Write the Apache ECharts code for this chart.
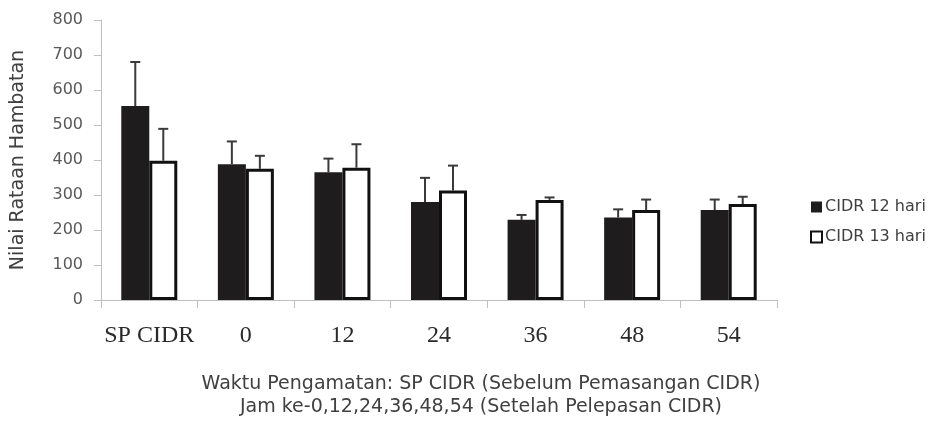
<!DOCTYPE html>
<html>
<head>
<meta charset="utf-8">
<script src="https://cdn.jsdelivr.net/npm/echarts@6/dist/echarts.min.js"></script>
<style>html,body{margin:0;padding:0;background:#fff}#c{width:930px;height:432px}</style>
</head>
<body>
<div id="c"></div>
<script>
var categories = ['SP CIDR', '0', '12', '24', '36', '48', '54'];
var seriesNames = ['CIDR 12 hari', 'CIDR 13 hari'];
var cidr12 = [554, 388, 365, 280, 229, 236, 257];
var cidr12Upper = [680, 453, 404, 349, 243, 259, 287];
var cidr13 = [398, 375, 378, 313, 286, 257, 274];
var cidr13Upper = [489, 412, 445, 384, 293, 287, 295];
var yTicks = [0, 100, 200, 300, 400, 500, 600, 700, 800];
var yAxisTitle = 'Nilai Rataan Hambatan';
var xAxisTitle = ['Waktu Pengamatan: SP CIDR (Sebelum Pemasangan CIDR)', 'Jam ke-0,12,24,36,48,54 (Setelah Pelepasan CIDR)'];

var BAR_W = 28;

function errData(vals, upper) {
  return vals.map(function (v, i) { return [i, v, upper[i]]; });
}
function errRender(offset) {
  return function (params, api) {
    var idx = api.value(0);
    var p0 = api.coord([idx, api.value(1)]);
    var p1 = api.coord([idx, api.value(2)]);
    var x = p0[0] + offset;
    var style = { stroke: '#3a3a3a', lineWidth: 2 };
    return {
      type: 'group',
      children: [
        { type: 'line', shape: { x1: x, y1: p0[1], x2: x, y2: p1[1] }, style: style },
        { type: 'line', shape: { x1: x - 5, y1: p1[1], x2: x + 5, y2: p1[1] }, style: style }
      ]
    };
  };
}

var chart = echarts.init(document.getElementById('c'), null, { renderer: 'canvas' });
chart.setOption({
  animation: false,
  backgroundColor: '#ffffff',
  grid: { left: 101, right: 153, top: 20, bottom: 132 },
  legend: {
    orient: 'vertical',
    left: 805,
    top: 194,
    itemWidth: 11,
    itemHeight: 11,
    itemGap: 14,
    icon: 'rect',
    textStyle: { fontFamily: 'DejaVu Sans', fontSize: 16, color: '#404040', padding: [0, 0, 0, -2] },
    data: seriesNames
  },
  xAxis: {
    type: 'category',
    data: categories,
    axisLine: { lineStyle: { color: '#bfbfbf', width: 1 } },
    axisTick: { show: true, length: 8, lineStyle: { color: '#bfbfbf' } },
    axisLabel: { interval: 0, fontFamily: 'Liberation Serif', fontSize: 24, color: '#2a2a2a', margin: 24 }
  },
  yAxis: {
    type: 'value',
    min: yTicks[0],
    max: yTicks[yTicks.length - 1],
    interval: yTicks[1] - yTicks[0],
    splitLine: { show: false },
    axisLine: { show: true, lineStyle: { color: '#bfbfbf', width: 1 } },
    axisTick: { show: true, length: 7, lineStyle: { color: '#bfbfbf' } },
    axisLabel: { fontFamily: 'DejaVu Sans', fontSize: 16, color: '#595959', margin: 18 },
    name: yAxisTitle,
    nameLocation: 'middle',
    nameRotate: 90,
    nameGap: 73,
    nameTextStyle: { fontFamily: 'DejaVu Sans', fontSize: 19, color: '#404040' }
  },
  series: [
    {
      name: seriesNames[0], type: 'bar', data: cidr12, barWidth: BAR_W, barGap: '0%',
      itemStyle: { color: '#1f1c1d' }
    },
    {
      name: seriesNames[1], type: 'bar', data: cidr13, barWidth: BAR_W, barGap: '0%',
      itemStyle: { color: '#ffffff', borderColor: '#111111', borderWidth: 3 }
    },
    {
      type: 'custom', data: errData(cidr12, cidr12Upper), renderItem: errRender(-BAR_W / 2),
      encode: { x: 0, y: [1, 2] }, z: 1, silent: true
    },
    {
      type: 'custom', data: errData(cidr13, cidr13Upper), renderItem: errRender(BAR_W / 2),
      encode: { x: 0, y: [1, 2] }, z: 1, silent: true
    }
  ],
  graphic: [
    {
      type: 'text', x: 481, y: 384,
      style: { text: xAxisTitle[0], fontFamily: 'DejaVu Sans', fontSize: 19, fill: '#404040', textAlign: 'center', textVerticalAlign: 'middle' }
    },
    {
      type: 'text', x: 481, y: 407,
      style: { text: xAxisTitle[1], fontFamily: 'DejaVu Sans', fontSize: 19, fill: '#404040', textAlign: 'center', textVerticalAlign: 'middle' }
    }
  ]
});
</script>
</body>
</html>
